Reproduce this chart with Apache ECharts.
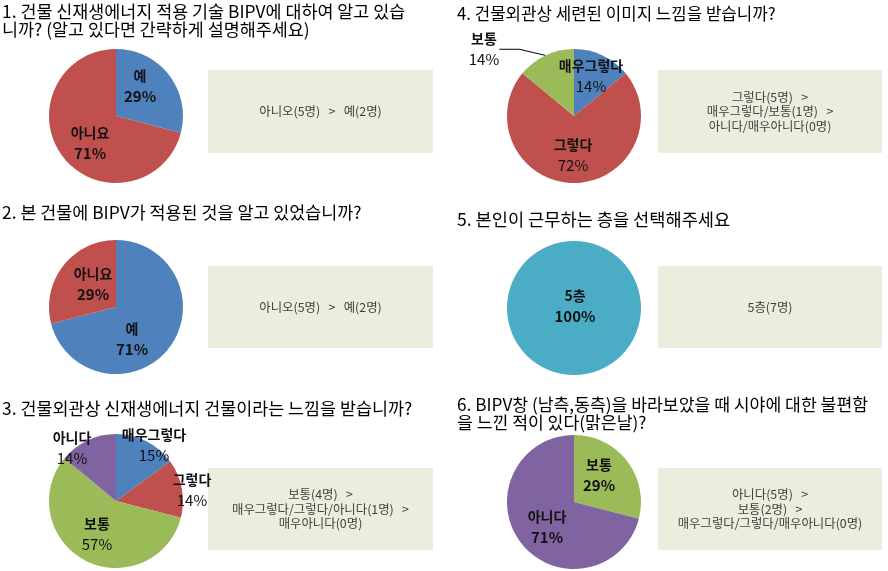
<!DOCTYPE html>
<html><head><meta charset="utf-8">
<script src="https://cdn.jsdelivr.net/npm/echarts@6/dist/echarts.min.js"></script>
<style>html,body{margin:0;padding:0;background:#fff}#c{width:888px;height:571px}</style>
</head><body><div id="c"></div>
<script>
// ---- data ----
const q1Title = '1. 건물 신재생에너지 적용 기술 BIPV에 대하여 알고 있습\n니까? (알고 있다면 간략하게 설명해주세요)';
const q1Cats = ['예', '아니요'];
const q1Vals = [29, 71];
const q1Note = '아니오(5명)   >   예(2명)';

const q2Title = '2. 본 건물에 BIPV가 적용된 것을 알고 있었습니까?';
const q2Cats = ['예', '아니요'];
const q2Vals = [71, 29];
const q2Note = '아니오(5명)   >   예(2명)';

const q3Title = '3. 건물외관상 신재생에너지 건물이라는 느낌을 받습니까?';
const q3Cats = ['매우그렇다', '그렇다', '보통', '아니다'];
const q3Vals = [15, 14, 57, 14];
const q3Note = '보통(4명)   >\n매우그렇다/그렇다/아니다(1명)   >\n매우아니다(0명)';

const q4Title = '4. 건물외관상 세련된 이미지 느낌을 받습니까?';
const q4Cats = ['매우그렇다', '그렇다', '보통'];
const q4Vals = [14, 72, 14];
const q4Note = '그렇다(5명)   >\n매우그렇다/보통(1명)   >\n아니다/매우아니다(0명)';

const q5Title = '5. 본인이 근무하는 층을 선택해주세요';
const q5Cats = ['5층'];
const q5Vals = [100];
const q5Note = '5층(7명)';

const q6Title = '6. BIPV창 (남측,동측)을 바라보았을 때 시야에 대한 불편함\n을 느낀 적이 있다(맑은날)?';
const q6Cats = ['보통', '아니다'];
const q6Vals = [29, 71];
const q6Note = '아니다(5명)   >\n보통(2명)   >\n매우그렇다/그렇다/매우아니다(0명)';

// ---- styles / layout ----
const BLUE = '#4F81BD', RED = '#C0504D', GREEN = '#9BBB59', PURPLE = '#8064A2', AQUA = '#4BACC6';
const FONT = '"Noto Sans CJK KR", "Noto Sans", sans-serif';

const panels = [
  {title: q1Title, cats: q1Cats, vals: q1Vals, note: q1Note, colors: [BLUE, RED], tfs: 17.4,
   tx: 2, ty: 2, cx: 116, cy: 116, box: [208, 70, 225, 83],
   offs: [[24, -30], [-26, 27]], pw: 'bold'},
  {title: q2Title, cats: q2Cats, vals: q2Vals, note: q2Note, colors: [BLUE, RED], tfs: 17.4,
   tx: 2, ty: 203, cx: 116, cy: 307, box: [208, 266, 225, 82],
   offs: [[16, 32], [-23, -23]], pw: 'bold'},
  {title: q3Title, cats: q3Cats, vals: q3Vals, note: q3Note, colors: [BLUE, RED, GREEN, PURPLE], tfs: 17.4,
   tx: 2, ty: 399, cx: 116, cy: 501, box: [208, 468, 225, 82],
   offs: [[38, -56], [76, -11], [-19, 33], [-44, -53]], pw: 'normal'},
  {title: q4Title, cats: q4Cats, vals: q4Vals, note: q4Note, colors: [BLUE, RED, GREEN], tfs: 16.8,
   tx: 457, ty: 5, cx: 574, cy: 116, box: [658, 70, 224, 83],
   offs: [[17, -40], [-1, 39], null], outer: 2, outerPos: [484, 49], pw: 'normal'},
  {title: q5Title, cats: q5Cats, vals: q5Vals, note: q5Note, colors: [AQUA], tfs: 17.6,
   tx: 457, ty: 210, cx: 574, cy: 308, box: [658, 266, 224, 82],
   offs: [[1, -2]], pw: 'bold'},
  {title: q6Title, cats: q6Cats, vals: q6Vals, note: q6Note, colors: [GREEN, PURPLE], tfs: 17.2,
   tx: 457, ty: 395, cx: 574, cy: 502, box: [658, 468, 224, 82],
   offs: [[25, -27], [-27, 25]], pw: 'bold'}
];
const R = 67;

const titles = [], series = [], graphics = [];
panels.forEach(function (p, pi) {
  titles.push({
    text: p.title, left: p.tx, top: p.ty, padding: 0,
    textStyle: {fontFamily: FONT, fontSize: p.tfs, fontWeight: 'normal', color: '#000', lineHeight: 18}
  });
  graphics.push({
    type: 'rect', shape: {x: p.box[0], y: p.box[1], width: p.box[2], height: p.box[3]},
    style: {fill: '#EBEEDD'}, silent: true
  });
  graphics.push({
    type: 'text', x: p.box[0] + p.box[2] / 2, y: p.box[1] + p.box[3] / 2,
    style: {text: p.note, align: 'center', verticalAlign: 'middle', fontFamily: FONT,
            fontSize: 12.4, lineHeight: 14.5, fill: '#404040'}, silent: true
  });
  const data = p.cats.map(function (c, i) {
    const d = {name: c, value: p.vals[i], itemStyle: {color: p.colors[i]}};
    if (p.outer === i) {
      d.label = {position: 'outside'};
      d.labelLine = {show: true, length: 6, length2: 20, lineStyle: {color: '#000', width: 1}};
    }
    return d;
  });
  series.push({
    type: 'pie', center: [p.cx, p.cy], radius: R, startAngle: 90, clockwise: true,
    silent: true, animation: false, avoidLabelOverlap: false,
    itemStyle: {borderWidth: 0},
    label: {
      show: true, position: 'inside',
      formatter: function (prm) { return '{n|' + prm.name + '}\n{p|' + prm.value + '%}'; },
      rich: {
        n: {fontFamily: FONT, fontSize: 14, fontWeight: 'bold', color: '#111', lineHeight: 21, align: 'center'},
        p: {fontFamily: FONT, fontSize: 15, fontWeight: p.pw, color: '#111', lineHeight: 21, align: 'center'}
      }
    },
    labelLine: {show: false},
    labelLayout: function (prm) {
      const i = prm.dataIndex;
      if (p.outer === i) {
        return {x: p.outerPos[0], y: p.outerPos[1], align: 'center', verticalAlign: 'middle'};
      }
      const o = p.offs[i];
      return {x: p.cx + o[0], y: p.cy + o[1], align: 'center', verticalAlign: 'middle'};
    },
    data: data
  });
});

const chart = echarts.init(document.getElementById('c'), null, {renderer: 'canvas'});
chart.setOption({
  animation: false,
  backgroundColor: '#fff',
  title: titles,
  series: series,
  graphic: graphics
});
</script></body></html>
